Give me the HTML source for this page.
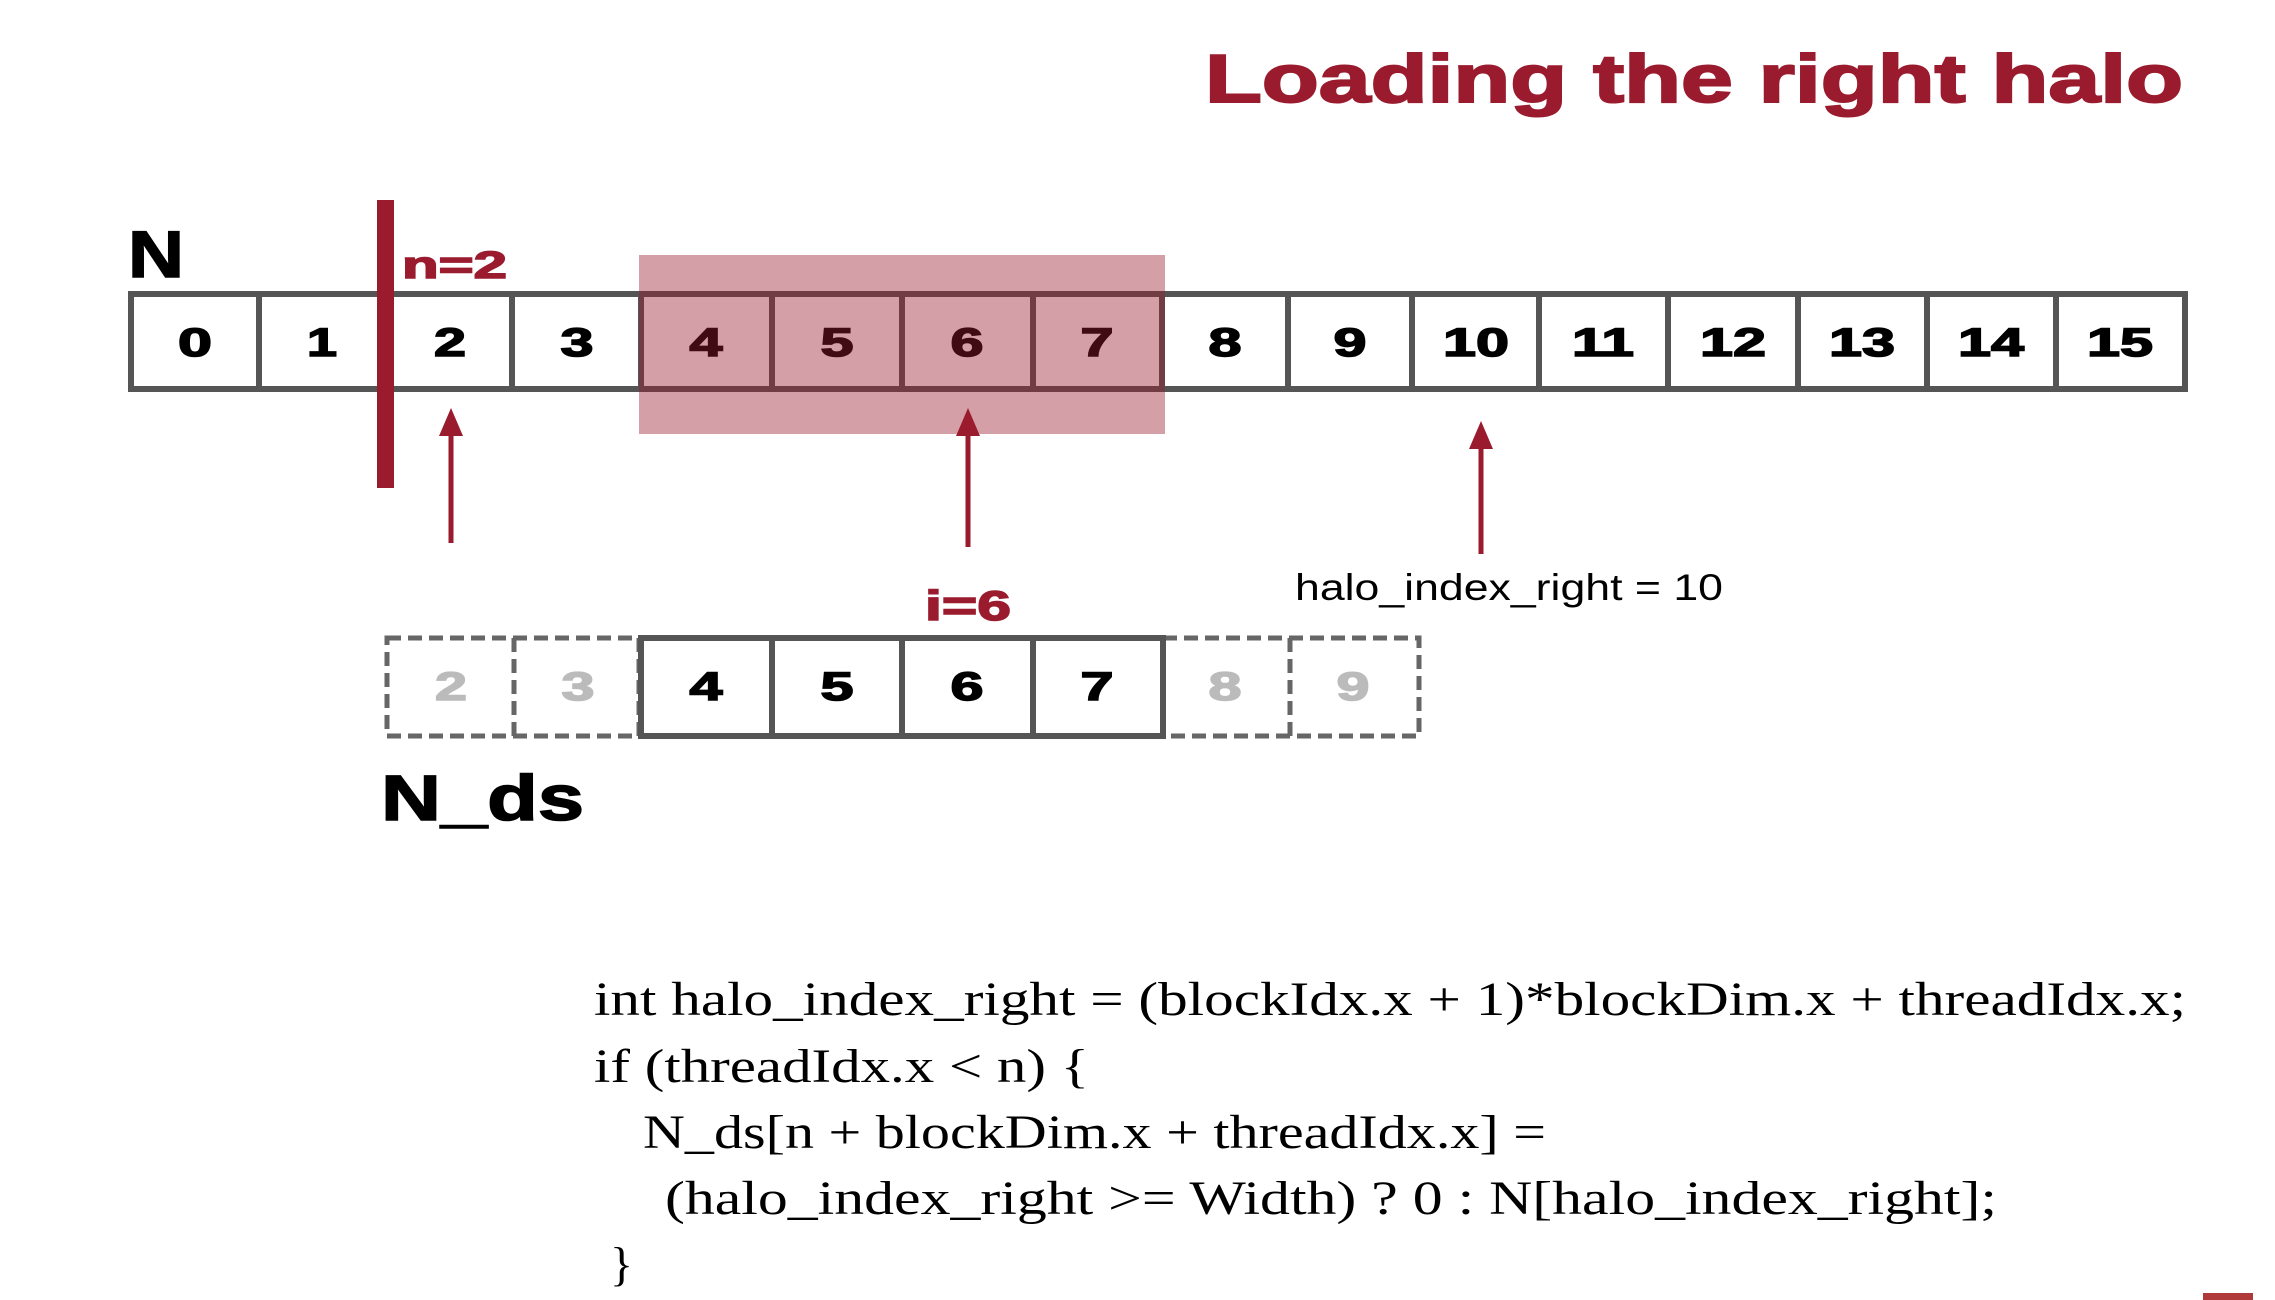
<!DOCTYPE html>
<html><head><meta charset="utf-8"><style>
html,body{margin:0;padding:0;background:#fff;}
svg{display:block;}
</style></head><body>
<svg width="2275" height="1300" viewBox="0 0 2275 1300" xmlns="http://www.w3.org/2000/svg">
<g font-family="Liberation Sans, sans-serif" font-weight="bold">
<text x="1205" y="102" font-size="68" fill="#9b1b2e" stroke="#9b1b2e" stroke-width="2" textLength="978" lengthAdjust="spacingAndGlyphs">Loading the right halo</text>
<text x="128" y="277" font-size="66" fill="#000" stroke="#000" stroke-width="1.5" textLength="56" lengthAdjust="spacingAndGlyphs">N</text>
<text x="402" y="278" font-size="38" fill="#9b1b2e" stroke="#9b1b2e" stroke-width="1.5" textLength="105" lengthAdjust="spacingAndGlyphs">n=2</text>
</g>
<!-- top array -->
<g stroke="#555" stroke-width="6" fill="#fff">
<rect x="131" y="294" width="2054" height="95"/>
</g>
<g stroke="#555" stroke-width="6">
<line x1="259" y1="294" x2="259" y2="389"/><line x1="387" y1="294" x2="387" y2="389"/>
<line x1="512" y1="294" x2="512" y2="389"/><line x1="641" y1="294" x2="641" y2="389"/>
<line x1="772" y1="294" x2="772" y2="389"/><line x1="902" y1="294" x2="902" y2="389"/>
<line x1="1033" y1="294" x2="1033" y2="389"/><line x1="1162" y1="294" x2="1162" y2="389"/>
<line x1="1288" y1="294" x2="1288" y2="389"/><line x1="1412" y1="294" x2="1412" y2="389"/>
<line x1="1539" y1="294" x2="1539" y2="389"/><line x1="1668" y1="294" x2="1668" y2="389"/>
<line x1="1798" y1="294" x2="1798" y2="389"/><line x1="1927" y1="294" x2="1927" y2="389"/>
<line x1="2056" y1="294" x2="2056" y2="389"/>
</g>
<g font-family="Liberation Sans, sans-serif" font-weight="bold" font-size="40" fill="#000" stroke="#000" stroke-width="1.5" text-anchor="middle">
<text x="195" y="356" textLength="34" lengthAdjust="spacingAndGlyphs">0</text><text x="322" y="356" textLength="30" lengthAdjust="spacingAndGlyphs">1</text><text x="450" y="356" textLength="32" lengthAdjust="spacingAndGlyphs">2</text><text x="577" y="356" textLength="33" lengthAdjust="spacingAndGlyphs">3</text>
<text x="706" y="356" textLength="33" lengthAdjust="spacingAndGlyphs">4</text><text x="837" y="356" textLength="33" lengthAdjust="spacingAndGlyphs">5</text><text x="967" y="356" textLength="33" lengthAdjust="spacingAndGlyphs">6</text><text x="1097" y="356" textLength="33" lengthAdjust="spacingAndGlyphs">7</text>
<text x="1225" y="356" textLength="33" lengthAdjust="spacingAndGlyphs">8</text><text x="1350" y="356" textLength="33" lengthAdjust="spacingAndGlyphs">9</text><text x="1476" y="356" textLength="66" lengthAdjust="spacingAndGlyphs">10</text>
<text x="1603" y="356" textLength="62" lengthAdjust="spacingAndGlyphs">11</text><text x="1733" y="356" textLength="66" lengthAdjust="spacingAndGlyphs">12</text>
<text x="1862" y="356" textLength="66" lengthAdjust="spacingAndGlyphs">13</text><text x="1991" y="356" textLength="66" lengthAdjust="spacingAndGlyphs">14</text>
<text x="2120" y="356" textLength="66" lengthAdjust="spacingAndGlyphs">15</text>
</g>
<rect x="639" y="255" width="526" height="179" fill="rgba(155,27,46,0.42)"/>
<rect x="377" y="200" width="17" height="288" fill="#9b1b2e"/>
<!-- arrows -->
<g stroke="#9b1b2e" stroke-width="5" fill="#9b1b2e">
<line x1="451" y1="425" x2="451" y2="543"/><polygon points="451,408 439,436 463,436" stroke="none"/>
<line x1="968" y1="425" x2="968" y2="547"/><polygon points="968,408 956,436 980,436" stroke="none"/>
<line x1="1481" y1="438" x2="1481" y2="554"/><polygon points="1481,421 1469,449 1493,449" stroke="none"/>
</g>
<text x="1295" y="600" font-family="Liberation Sans, sans-serif" font-size="37" fill="#000" textLength="428" lengthAdjust="spacingAndGlyphs">halo_index_right = 10</text>
<text x="925" y="620" font-family="Liberation Sans, sans-serif" font-weight="bold" font-size="42" fill="#9b1b2e" stroke="#9b1b2e" stroke-width="1.5" textLength="86" lengthAdjust="spacingAndGlyphs">i=6</text>
<!-- bottom array -->
<g stroke="#666" stroke-width="5" fill="none" stroke-dasharray="14 7">
<rect x="387" y="638" width="252" height="98"/>
<line x1="514" y1="638" x2="514" y2="736"/>
<rect x="1163" y="638" width="256" height="98"/>
<line x1="1290" y1="638" x2="1290" y2="736"/>
</g>
<g stroke="#555" stroke-width="6" fill="none">
<rect x="641" y="638" width="522" height="98"/>
<line x1="772" y1="638" x2="772" y2="736"/><line x1="902" y1="638" x2="902" y2="736"/><line x1="1033" y1="638" x2="1033" y2="736"/>
</g>
<g font-family="Liberation Sans, sans-serif" font-weight="bold" font-size="40" stroke-width="1.5" text-anchor="middle">
<text x="451" y="700" fill="#bbb" stroke="#bbb" textLength="32" lengthAdjust="spacingAndGlyphs">2</text><text x="578" y="700" fill="#bbb" stroke="#bbb" textLength="33" lengthAdjust="spacingAndGlyphs">3</text>
<text x="706" y="700" stroke="#000" textLength="33" lengthAdjust="spacingAndGlyphs">4</text><text x="837" y="700" stroke="#000" textLength="33" lengthAdjust="spacingAndGlyphs">5</text><text x="967" y="700" stroke="#000" textLength="33" lengthAdjust="spacingAndGlyphs">6</text><text x="1097" y="700" stroke="#000" textLength="33" lengthAdjust="spacingAndGlyphs">7</text>
<text x="1225" y="700" fill="#bbb" stroke="#bbb" textLength="33" lengthAdjust="spacingAndGlyphs">8</text><text x="1353" y="700" fill="#bbb" stroke="#bbb" textLength="33" lengthAdjust="spacingAndGlyphs">9</text>
</g>
<text x="381" y="820" font-family="Liberation Sans, sans-serif" font-weight="bold" font-size="64" fill="#000" stroke="#000" stroke-width="1.5" textLength="203" lengthAdjust="spacingAndGlyphs">N_ds</text>
<!-- code -->
<g font-family="Liberation Serif, serif" font-size="48" fill="#000">
<text x="594" y="1015" textLength="1592" lengthAdjust="spacingAndGlyphs">int halo_index_right = (blockIdx.x + 1)*blockDim.x + threadIdx.x;</text>
<text x="594" y="1082" textLength="495" lengthAdjust="spacingAndGlyphs">if (threadIdx.x &lt; n) {</text>
<text x="643" y="1148" textLength="903" lengthAdjust="spacingAndGlyphs">N_ds[n + blockDim.x + threadIdx.x] =</text>
<text x="665" y="1214" textLength="1332" lengthAdjust="spacingAndGlyphs">(halo_index_right &gt;= Width) ? 0 : N[halo_index_right];</text>
<text x="610" y="1280">}</text>
</g>
<rect x="2203" y="1293" width="50" height="7" fill="#b03a3a"/>
</svg>
</body></html>
